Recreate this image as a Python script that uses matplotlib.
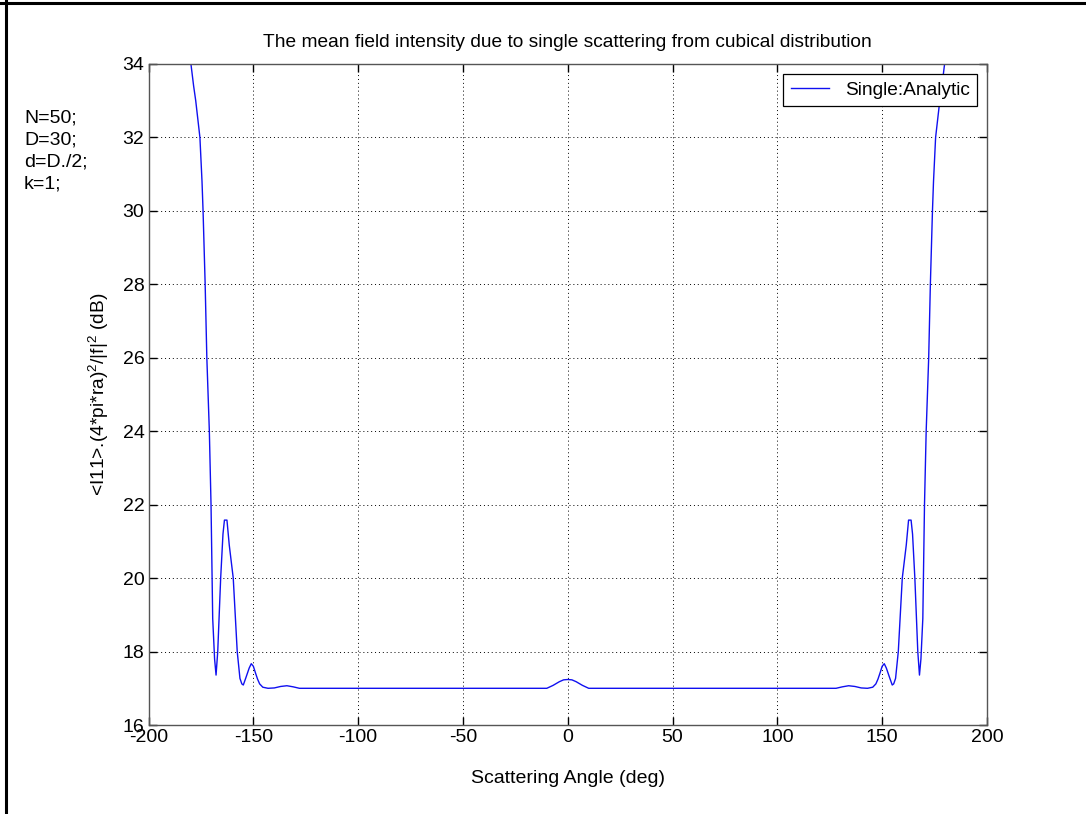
import matplotlib
matplotlib.use("Agg")
import matplotlib.pyplot as plt
from matplotlib.lines import Line2D

plt.rcParams['font.family'] = ['Liberation Sans', 'DejaVu Sans']
plt.rcParams['mathtext.fontset'] = 'custom'
plt.rcParams['mathtext.rm'] = 'Liberation Sans'
plt.rcParams['mathtext.default'] = 'regular'
plt.rcParams['axes.unicode_minus'] = False

# Single scattering, analytic (angle in deg, intensity in dB)
angle = [-180, -178.5, -177.5, -175.5, -174.5, -174, -173, -172.2, -171, -170.2,
         -169.4, -168.5, -167.8, -167, -165.6, -164.5, -163.8, -162.6, -161.5,
         -159.6, -157.7, -156.4, -155.5, -154.8, -153.5, -152, -151, -150, -149,
         -148, -147, -145.5, -143, -140, -137, -134, -131, -128,
         -10, -7, -4, -2, 0, 2, 4, 7, 10,
         128, 131, 134, 137, 140, 143, 145.5, 147, 148, 149, 150, 151, 152,
         153.5, 154.8, 155.5, 156.4, 157.7, 159.6, 161.5, 162.6, 163.8, 164.5,
         165.6, 167, 167.8, 168.5, 169.4, 170.2, 171, 172.2, 173, 174, 174.5,
         175.5, 177.5, 178.5, 180]
intensity = [34.1, 33.4, 33.0, 32.0, 30.8, 30.0, 28.0, 26.0, 24.0, 22.0,
             18.9, 17.8, 17.36, 18.0, 20.0, 21.2, 21.58, 21.58, 20.9,
             20.0, 18.0, 17.27, 17.12, 17.09, 17.3, 17.55, 17.67, 17.6, 17.42,
             17.25, 17.12, 17.03, 17.0, 17.01, 17.05, 17.07, 17.04, 17.0,
             17.0, 17.08, 17.18, 17.23, 17.24, 17.23, 17.18, 17.08, 17.0,
             17.0, 17.04, 17.07, 17.05, 17.01, 17.0, 17.03, 17.12, 17.25, 17.42,
             17.6, 17.67, 17.55, 17.3, 17.09, 17.12, 17.27, 18.0, 20.0, 20.9,
             21.58, 21.58, 21.2, 20.0, 18.0, 17.36, 17.8, 18.9, 22.0, 24.0,
             26.0, 28.0, 30.0, 30.8, 32.0, 33.0, 33.4, 34.1]

xticks = list(range(-200, 201, 50))
yticks = list(range(16, 35, 2))

fig = plt.figure(figsize=(10.86, 8.14), dpi=100)
ax = fig.add_axes([0.1368, 0.1093, 0.772, 0.8121])

ax.plot(angle, intensity, color='#1010f0', lw=1.0, label='Single:Analytic')

ax.set_xlim(-200, 200)
ax.set_ylim(16, 34)
ax.set_xticks(xticks)
ax.set_yticks(yticks)
ax.grid(True, color='black', linestyle=(0, (1, 3)), linewidth=0.7)
ax.tick_params(direction='in', length=6, width=1, top=True, right=True,
               labelsize=14, pad=3, colors='black')
for s in ax.spines.values():
    s.set_color('#555555')
    s.set_linewidth(1.0)

ax.set_title('The mean field intensity due to single scattering from cubical distribution',
             fontsize=13.8, pad=12)
ax.set_xlabel('Scattering Angle (deg)', fontsize=14, labelpad=17)
ax.set_ylabel(r'<I11>.(4*pi*ra)$^2$/|f|$^2$ (dB)', fontsize=13.8, labelpad=8)

leg = ax.legend(loc='upper right', fontsize=13.8, fancybox=False, framealpha=1,
                edgecolor='black', handlelength=2.0, borderaxespad=0.5,
                borderpad=0.4, handletextpad=0.8)
leg.get_frame().set_linewidth(0.9)

fig.text(0.022, 0.866, 'N=50;\nD=30;\nd=D./2;\nk=1;', fontsize=14,
         va='top', ha='left', linespacing=1.4)

# black frame along top and left edges of the picture
fig.add_artist(Line2D([0.0055, 0.0055], [0, 1], transform=fig.transFigure,
                      color='black', lw=2.2))
fig.add_artist(Line2D([0, 1], [0.996, 0.996], transform=fig.transFigure,
                      color='black', lw=2.2))

fig.savefig('out.png', dpi=100)
